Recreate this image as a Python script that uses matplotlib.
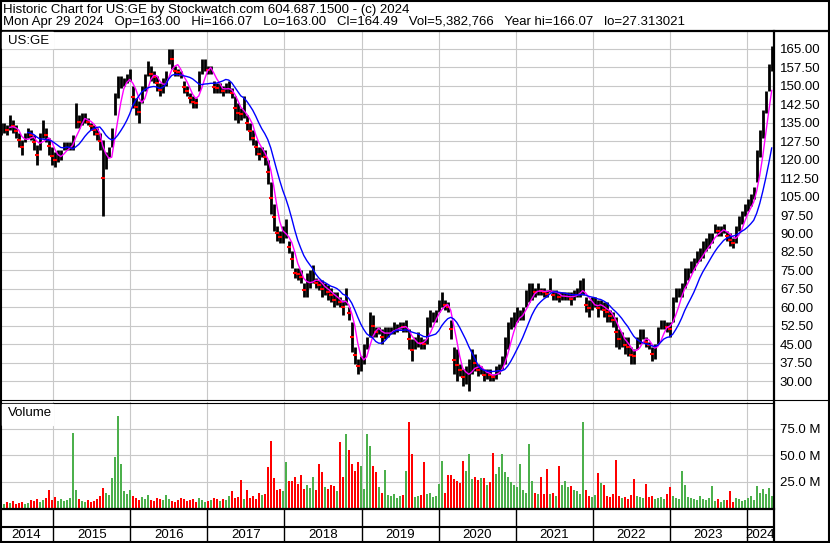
import matplotlib
matplotlib.use("Agg")
import matplotlib.pyplot as plt
from matplotlib.patches import Rectangle
import numpy as np
import pandas as pd

plt.rcParams["font.family"] = ["Liberation Sans", "DejaVu Sans"]

# US:GE, two-week bars from late Apr 2014 to late Apr 2024
lo = [130, 131, 130, 132, 131, 129, 125, 122, 127, 129, 128, 124, 118, 124, 129, 127, 122, 118,
      117, 119, 120, 124, 124, 124, 124, 133, 133, 134, 135, 134, 132, 130, 128, 124, 97, 116, 121, 125, 138, 145, 149, 150, 151, 152,
      141, 138, 135, 143, 148, 154, 152, 151, 148, 146, 147, 150, 159, 157, 154, 154, 153, 147, 146, 143, 141, 141, 148, 155, 156, 155,
      155, 147, 147, 147, 146, 147, 147, 145, 136, 135, 136, 137, 132, 128, 126, 122, 120, 121, 118, 110, 98, 91, 87, 86, 86, 88,
      82, 76, 72, 71, 70, 64, 64, 68, 70, 68, 67, 64, 65, 63, 62, 60, 61, 60, 57, 61, 55, 42, 37, 33, 34, 37,
      43, 48, 48, 48, 49, 45, 47, 48, 49, 49, 50, 51, 50, 50, 43, 38, 43, 44, 43, 43, 45, 52, 54, 54, 58, 60,
      59, 58, 47, 33, 30, 32, 28, 29, 26, 33, 34, 32, 33, 30, 31, 30, 30, 31, 33, 35, 37, 43, 51, 52, 54, 55,
      55, 60, 62, 63, 64, 65, 65, 64, 64, 66, 63, 63, 62, 63, 63, 63, 61, 63, 64, 64, 65, 58, 56, 59, 60, 56,
      59, 56, 54, 54, 52, 44, 43, 44, 41, 40, 37, 37, 43, 45, 47, 44, 43, 38, 39, 45, 51, 51, 50, 48, 54, 62,
      64, 64, 68, 71, 74, 75, 78, 79, 80, 83, 84, 86, 90, 89, 89, 90, 87, 85, 84, 86, 91, 94, 97, 99, 101, 104,
      111, 121, 129, 139, 148, 156]
hi = [135, 135, 134, 138, 136, 134, 131, 128, 131, 133, 132, 130, 126, 131, 136, 133, 129, 125,
      123, 124, 124, 127, 127, 127, 130, 143, 138, 139, 139, 137, 135, 134, 133, 131, 128, 123, 125, 133, 147, 154, 154, 153, 155, 157,
      150, 145, 144, 150, 155, 160, 158, 156, 154, 151, 153, 156, 165, 165, 158, 157, 156, 152, 150, 147, 146, 145, 156, 161, 161, 158,
      158, 152, 151, 151, 150, 151, 152, 149, 146, 143, 141, 146, 138, 135, 132, 128, 125, 125, 124, 120, 111, 102, 93, 91, 93, 96,
      87, 83, 76, 76, 75, 70, 74, 75, 77, 72, 71, 71, 70, 69, 68, 66, 66, 64, 63, 68, 60, 54, 44, 39, 40, 45,
      48, 58, 57, 52, 52, 51, 52, 52, 52, 54, 53, 54, 54, 55, 51, 47, 48, 50, 48, 47, 56, 59, 58, 59, 63, 66,
      63, 62, 55, 44, 43, 37, 35, 36, 39, 43, 41, 37, 36, 35, 35, 35, 33, 36, 37, 40, 48, 54, 56, 58, 60, 59,
      60, 67, 70, 70, 68, 70, 68, 68, 67, 72, 67, 67, 66, 66, 66, 66, 66, 67, 68, 71, 72, 64, 63, 64, 64, 63,
      63, 62, 62, 59, 58, 56, 51, 50, 48, 48, 44, 43, 48, 51, 51, 48, 46, 44, 45, 52, 55, 55, 54, 54, 64, 68,
      68, 70, 76, 76, 79, 80, 83, 84, 87, 88, 90, 90, 94, 93, 93, 94, 91, 90, 88, 93, 97, 99, 102, 104, 106, 109,
      124, 132, 140, 148, 159, 166]
# volume, millions of shares
vol = [5, 4, 6, 5, 7, 4, 5, 6, 4, 5, 8, 7, 9, 6, 8, 10, 17, 8,
       11, 7, 9, 7, 8, 10, 71, 17, 9, 7, 6, 8, 6, 7, 9, 12, 19, 15, 13, 29, 48, 87, 42, 16, 14, 17,
       12, 10, 8, 11, 9, 13, 8, 7, 10, 9, 8, 13, 9, 7, 6, 8, 10, 9, 7, 8, 9, 6, 10, 8, 6, 7,
       8, 10, 9, 7, 9, 8, 12, 16, 10, 11, 27, 9, 17, 10, 12, 9, 15, 13, 14, 39, 63, 29, 17, 18, 16, 44,
       26, 26, 30, 23, 31, 18, 22, 19, 30, 17, 42, 34, 20, 18, 22, 21, 16, 62, 30, 70, 55, 42, 35, 44, 40, 18,
       70, 59, 40, 34, 20, 15, 36, 13, 12, 14, 10, 12, 13, 35, 81, 51, 11, 12, 13, 44, 14, 15, 11, 12, 23, 45,
       15, 31, 31, 28, 26, 24, 45, 35, 51, 28, 30, 27, 29, 29, 22, 25, 52, 32, 39, 51, 34, 30, 25, 22, 20, 42,
       17, 15, 61, 26, 15, 14, 30, 14, 37, 14, 15, 12, 40, 22, 26, 20, 21, 17, 16, 14, 81, 17, 12, 11, 13, 33,
       24, 22, 12, 11, 14, 46, 12, 10, 11, 9, 13, 28, 12, 11, 10, 23, 11, 12, 9, 10, 11, 9, 14, 20, 12, 10,
       9, 35, 22, 11, 10, 9, 8, 12, 9, 8, 10, 21, 7, 9, 6, 8, 8, 16, 6, 10, 9, 7, 8, 10, 12, 8,
       21, 15, 18, 14, 19, 12]

years = [2014, 2015, 2016, 2017, 2018, 2019, 2020, 2021, 2022, 2023, 2024]
price_ticks = [30.0, 37.5, 45.0, 52.5, 60.0, 67.5, 75.0, 82.5, 90.0, 97.5, 105.0, 112.5,
               120.0, 127.5, 135.0, 142.5, 150.0, 157.5, 165.0]
vol_ticks = [25, 50, 75]

title1 = "Historic Chart for US:GE by Stockwatch.com 604.687.1500 - (c) 2024"
title2 = ("Mon Apr 29 2024   Op=163.00   Hi=166.07   Lo=163.00   Cl=164.49   "
          "Vol=5,382,766   Year hi=166.07   lo=27.313021")

lo = np.array(lo, dtype=float)
hi = np.array(hi, dtype=float)
vol = np.array(vol, dtype=float)
mid = (hi + lo) / 2
t = np.linspace(2014.32, 2024.32, len(hi))  # decimal years
ma_short = pd.Series(mid).rolling(4).mean()
ma_long = pd.Series(mid).rolling(10).mean()
down = np.r_[False, np.diff(mid) < 0]

W, H = 830, 543
XLIM = (2014.31, 2024.337)
fig = plt.figure(figsize=(W / 100, H / 100), dpi=100)


def px_axes(x0, y0, x1, y1):
    return fig.add_axes([x0 / W, 1 - y1 / H, (x1 - x0) / W, (y1 - y0) / H])


grid_kw = dict(color="#c8c8c8", lw=0.8)
fs = 9.5

# price panel
ax = px_axes(0, 31, 773, 400)
ax.vlines(t, lo, hi, color="black", lw=2.0, zorder=3)
ax.plot(t[down], mid[down], ls="none", marker="_", color="red", ms=3, mew=1.5, zorder=4)
ax.plot(t, ma_short, color="#ff00ff", lw=1.0, zorder=5)
ax.plot(t, ma_long, color="#0000ff", lw=1.0, zorder=5)
ax.set_xlim(XLIM)
ax.set_ylim(22.3, 172.3)
ax.set_xticks(years[1:])
ax.set_yticks(price_ticks)
ax.set_yticklabels([f"{v:.2f}" for v in price_ticks])
ax.yaxis.tick_right()
ax.tick_params(axis="y", length=0, pad=5, labelsize=fs)
ax.tick_params(axis="x", length=0, labelbottom=False)
ax.grid(**grid_kw)
ax.set_axisbelow(True)
for s in ax.spines.values():
    s.set_visible(False)

# volume panel
axv = px_axes(0, 402, 773, 508.5)
colors = np.where(down, "#ff0000", "#4cb04c")
axv.bar(t, vol, width=0.03, color=colors, zorder=3)
axv.set_xlim(XLIM)
axv.set_ylim(0, 100)
axv.set_xticks(years[1:])
axv.set_yticks(vol_ticks)
axv.set_yticklabels([f"{v:.1f} M" for v in vol_ticks])
axv.yaxis.tick_right()
axv.tick_params(axis="y", length=0, pad=5, labelsize=fs)
axv.tick_params(axis="x", length=0, labelbottom=False)
axv.grid(**grid_kw)
axv.set_axisbelow(True)
for s in axv.spines.values():
    s.set_visible(False)

# year strip
axd = px_axes(0, 509, 773, 543)
axd.set_xlim(XLIM)
axd.set_ylim(543, 509)
axd.axis("off")
axd.vlines(years[1:], 509, 543, color="black", lw=1.0)
axd.hlines(527, XLIM[0], XLIM[1], color="black", lw=1.5)
for y in years:
    a, b = max(y, XLIM[0]), min(y + 1, XLIM[1])
    axd.text((a + b) / 2, 535.5, str(y), ha="center", va="center", fontsize=fs)

# frame and header drawn in pixel space
ov = fig.add_axes([0, 0, 1, 1])
ov.set_xlim(0, W)
ov.set_ylim(H, 0)
ov.axis("off")
ov.patch.set_alpha(0)
ov.add_patch(Rectangle((0.8, 0.8), W - 1.6, H - 1.6, fill=False, lw=1.5, ec="black"))
ov.plot([0, W], [31, 31], color="black", lw=1.6)
ov.plot([774, 774], [31, H], color="black", lw=1.6)
ov.plot([0, W], [400, 400], color="black", lw=0.8)
ov.plot([0, 774], [402.5, 402.5], color="black", lw=0.8)
ov.plot([0, 774], [509, 509], color="black", lw=1.6)
ov.text(3, 9.5, title1, va="center", fontsize=fs)
ov.text(3, 21.5, title2, va="center", fontsize=fs)
ov.add_patch(Rectangle((1.5, 32), 51.5, 15.5, color="white", zorder=2))
ov.text(8, 41, "US:GE", va="center", fontsize=fs, zorder=3)
ov.add_patch(Rectangle((1.5, 403.5), 51.5, 21, color="white", zorder=2))
ov.text(8, 413, "Volume", va="center", fontsize=fs, zorder=3)

fig.savefig("out.png", dpi=100)
